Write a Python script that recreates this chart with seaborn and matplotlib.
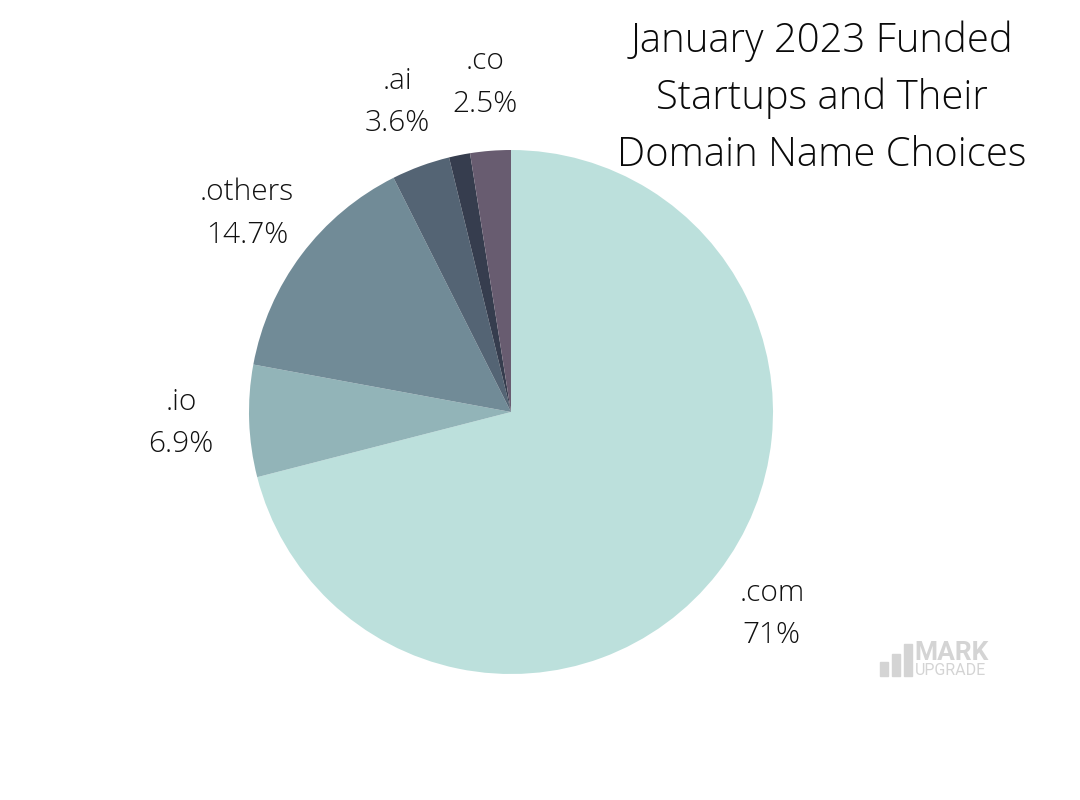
import matplotlib
matplotlib.use("Agg")
import matplotlib.pyplot as plt
import seaborn as sns
from matplotlib.patches import Rectangle

# data
domains = [".com", ".io", ".others", ".ai", "", ".co"]
shares = [71.0, 6.9, 14.7, 3.6, 1.3, 2.5]
pct_labels = ["71%", "6.9%", "14.7%", "3.6%", "", "2.5%"]
colors = ["#BCE0DC", "#92B4B8", "#718B97", "#546474", "#363D4E", "#685C70"]

sns.set_theme(style="white")
plt.rcParams['font.family'] = ['Open Sans', 'DejaVu Sans']

fig = plt.figure(figsize=(10.8, 8), dpi=100)
fig.patch.set_facecolor("white")

# pie centre (511, 412) px, radius 262 px
cx, cy, r = 511, 412, 262
ax = fig.add_axes([(cx - r) / 1080, (800 - cy - r) / 800, 2 * r / 1080, 2 * r / 800])

labels = [f"{d}\n{p}" if d else "" for d, p in zip(domains, pct_labels)]
wedges, texts = ax.pie(shares, labels=labels, colors=colors, startangle=90,
                       counterclock=False, labeldistance=1.26,
                       wedgeprops=dict(linewidth=0),
                       textprops=dict(fontsize=21.5, fontweight="light",
                                      color="#111111", linespacing=1.58))
for t in texts:
    t.set_ha("center")
    t.set_va("center")
ax.set_xlim(-1, 1)
ax.set_ylim(-1, 1)
ax.set_aspect("equal")

fig.text(822 / 1080, 1 - 98 / 800, "January 2023 Funded\nStartups and Their\nDomain Name Choices",
         ha="center", va="center", fontsize=28.8, fontweight="light",
         color="#0a0a0a", linespacing=1.5)

# watermark logo
logo_gray = "#D4D4D4"
for x0, h in [(880, 14), (892, 22), (904, 32)]:
    fig.patches.append(Rectangle((x0 / 1080, (800 - 676) / 800), 8 / 1080, h / 800,
                                 transform=fig.transFigure, color=logo_gray))
fig.text(914 / 1080, 1 - 660 / 800, "MARK", ha="left", va="baseline",
         fontsize=19, fontweight="bold", color=logo_gray, family=["Roboto", "DejaVu Sans"])
fig.text(915 / 1080, 1 - 675 / 800, "UPGRADE", ha="left", va="baseline",
         fontsize=11.5, color=logo_gray, family=["Roboto", "DejaVu Sans"])

fig.savefig("out.png", dpi=100, facecolor="white")
